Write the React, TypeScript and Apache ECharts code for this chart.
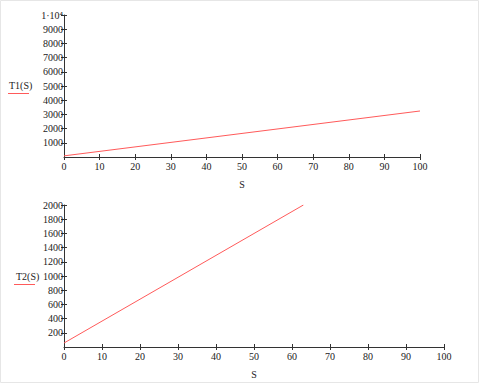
import React, { useEffect, useRef } from "react";
import * as echarts from "echarts";

// T1(S): straight line read at its end points
const t1S = [0, 100];
const t1V = [80, 3240];
// T2(S): straight line read at its end points
const t2S = [0, 63];
const t2V = [56, 2000];

const xTicks = [0, 10, 20, 30, 40, 50, 60, 70, 80, 90, 100];
const y1Max = 10000;
const y1Step = 1000;
const y2Max = 2000;
const y2Step = 200;
const y1TopLabel = "1·10⁴";

const FONT = "Liberation Serif";
const AXIS_COLOR = "#333";
const LINE_COLOR = "#ff5a5a";
const TEXT_COLOR = "#222";

export default function App() {
  const ref = useRef<HTMLDivElement>(null);
  useEffect(() => {
    if (!ref.current) return;
    const chart = echarts.init(ref.current, undefined, { renderer: "svg" });
    const xBase = (grid: number, show: boolean) => ({
      type: "value" as const,
      gridIndex: grid,
      position: "bottom" as const,
      min: xTicks[0],
      max: xTicks[xTicks.length - 1],
      interval: 10,
      splitLine: { show: false },
      axisLine: { show: show, onZero: false, lineStyle: { color: AXIS_COLOR, width: 1 } },
      axisTick: { show: true, length: 3, inside: !show, lineStyle: { color: AXIS_COLOR } },
      axisLabel: {
        show: show,
        color: TEXT_COLOR,
        fontFamily: FONT,
        fontSize: 10,
        margin: 4,
      },
      name: show ? "S" : "",
      nameLocation: "middle" as const,
      nameGap: 22,
      nameTextStyle: { color: TEXT_COLOR, fontFamily: FONT, fontSize: 10 },
    });
    const yBase = (grid: number, max: number, step: number, show: boolean, top: boolean) => ({
      type: "value" as const,
      gridIndex: grid,
      position: "left" as const,
      min: 0,
      max: max,
      interval: step,
      splitLine: { show: false },
      axisLine: { show: show, onZero: false, lineStyle: { color: AXIS_COLOR, width: 1 } },
      axisTick: { show: true, length: 3, inside: !show, lineStyle: { color: AXIS_COLOR } },
      axisLabel: {
        show: show,
        showMinLabel: false,
        color: TEXT_COLOR,
        fontFamily: FONT,
        fontSize: 10,
        margin: 1,
        formatter: (v: number) => (top && v === y1Max ? y1TopLabel : String(v)),
      },
    });
    chart.setOption({
      animation: false,
      backgroundColor: "#fff",
      grid: [
        { left: 64, top: 15, width: 356, height: 142 },
        { left: 64, top: 205, width: 380, height: 142 },
      ],
      xAxis: [xBase(0, true), xBase(0, false), xBase(1, true), xBase(1, false)],
      yAxis: [
        yBase(0, y1Max, y1Step, true, true),
        yBase(0, y1Max, y1Step, false, true),
        yBase(1, y2Max, y2Step, true, false),
        yBase(1, y2Max, y2Step, false, false),
      ],
      series: [
        {
          type: "line",
          xAxisIndex: 0,
          yAxisIndex: 0,
          data: t1S.map((s, i) => [s, t1V[i]]),
          showSymbol: false,
          lineStyle: { color: LINE_COLOR, width: 1 },
        },
        {
          type: "line",
          xAxisIndex: 2,
          yAxisIndex: 2,
          data: t2S.map((s, i) => [s, t2V[i]]),
          showSymbol: false,
          lineStyle: { color: LINE_COLOR, width: 1 },
        },
      ],
      graphic: [
        {
          type: "rect",
          shape: { x: 0.5, y: 0.5, width: 478, height: 382 },
          style: { fill: "none", stroke: "#e6e6e6", lineWidth: 1 },
          silent: true,
        },
        {
          type: "text",
          x: 9,
          y: 85,
          style: { text: "T1(S)", fontFamily: FONT, fontSize: 10, fill: TEXT_COLOR, verticalAlign: "middle" },
        },
        {
          type: "line",
          shape: { x1: 8, y1: 93.5, x2: 29, y2: 93.5 },
          style: { stroke: LINE_COLOR, lineWidth: 1 },
        },
        {
          type: "text",
          x: 16,
          y: 276,
          style: { text: "T2(S)", fontFamily: FONT, fontSize: 10, fill: TEXT_COLOR, verticalAlign: "middle" },
        },
        {
          type: "line",
          shape: { x1: 14, y1: 284.5, x2: 35, y2: 284.5 },
          style: { stroke: LINE_COLOR, lineWidth: 1 },
        },
      ],
    });
    return () => chart.dispose();
  }, []);
  return (
    <div
      ref={ref}
      style={{ position: "fixed", left: 0, top: 0, width: 480, height: 384, background: "#fff" }}
    />
  );
}
